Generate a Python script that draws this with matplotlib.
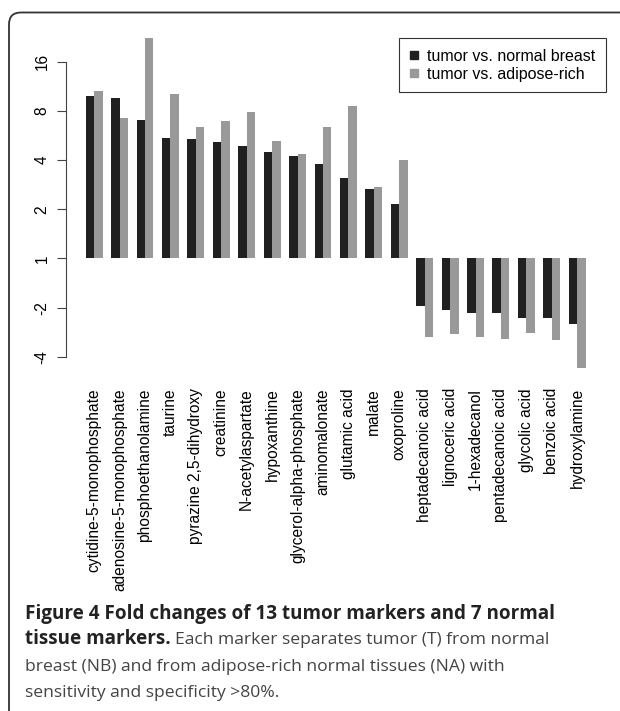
import matplotlib
matplotlib.use("Agg")
import matplotlib.pyplot as plt
import numpy as np
from matplotlib.lines import Line2D
from matplotlib.patches import FancyBboxPatch

# fold changes (negative = higher in normal tissue)
markers = [
    "cytidine-5-monophosphate", "adenosine-5-monophosphate", "phosphoethanolamine",
    "taurine", "pyrazine 2,5-dihydroxy", "creatinine", "N-acetylaspartate",
    "hypoxanthine", "glycerol-alpha-phosphate", "aminomalonate", "glutamic acid",
    "malate", "oxoproline", "heptadecanoic acid", "lignoceric acid", "1-hexadecanol",
    "pentadecanoic acid", "glycolic acid", "benzoic acid", "hydroxylamine",
]
fc_normal = [9.92, 9.65, 7.06, 5.46, 5.39, 5.13, 4.86, 4.50, 4.26, 3.78, 3.12, 2.66, 2.17,
             -1.95, -2.06, -2.14, -2.16, -2.31, -2.31, -2.53]
fc_adipose = [10.56, 7.26, 22.3, 10.2, 6.36, 6.96, 7.89, 5.21, 4.38, 6.36, 8.57, 2.75, 4.0,
              -3.01, -2.89, -3.03, -3.10, -2.85, -3.14, -4.69]
series_labels = ["tumor vs. normal breast", "tumor vs. adipose-rich"]
tick_values = [16, 8, 4, 2, 1, -2, -4]

caption_bold1 = "Figure 4 Fold changes of 13 tumor markers and 7 normal"
caption_bold2 = "tissue markers."
caption_rest2 = "Each marker separates tumor (T) from normal"
caption_line3 = "breast (NB) and from adipose-rich normal tissues (NA) with"
caption_line4 = "sensitivity and specificity >80%."

DARK, LIGHT = "#202020", "#999999"


def signed_log2(v):
    v = np.asarray(v, dtype=float)
    return np.sign(v) * np.log2(np.abs(v))


W, H = 620, 711
fig = plt.figure(figsize=(W / 100, H / 100), dpi=100)

ln = signed_log2(fc_normal)
la = signed_log2(fc_adipose)
lo = min(ln.min(), la.min())
hi = max(ln.max(), la.max())

# pixel layout of the plot region (zero line at y=258.5, 49.2 px per doubling)
y0, unit = 258.5, 49.2
top_px = y0 - hi * unit
bot_px = y0 - lo * unit
ax = fig.add_axes([65.7 / W, 1 - bot_px / H, 540 / W, (bot_px - top_px) / H])

n = len(markers)
grp = np.arange(n) * 3
ax.bar(grp + 1.5, ln, width=1, color=DARK, linewidth=0)
ax.bar(grp + 2.5, la, width=1, color=LIGHT, linewidth=0)
ax.set_xlim(-1.36, 62.36)
ax.set_ylim(lo, hi)

for s in ["top", "right", "bottom"]:
    ax.spines[s].set_visible(False)
ax.spines["left"].set_bounds(-2, 4)
ax.spines["left"].set_color("#444444")
ax.spines["left"].set_linewidth(0.8)

ax.set_yticks(signed_log2(tick_values))
ax.set_yticklabels([str(t) for t in tick_values], rotation=90, va="center",
                   family="Liberation Sans", fontsize=11.2)
ax.tick_params(axis="y", length=6.5, width=0.8, color="#444444", pad=5)

ax.set_xticks(grp + 2)
ax.set_xticklabels(markers, rotation=90, family="Liberation Sans", fontsize=11.2)
ax.tick_params(axis="x", length=0, pad=14.3)

handles = [Line2D([], [], ls="none", marker="s", ms=5.8, color=c) for c in (DARK, LIGHT)]
leg = ax.legend(handles, series_labels, loc="upper right", bbox_to_anchor=(1, 1),
                borderaxespad=0, fancybox=False, edgecolor="#333333",
                prop={"family": "Liberation Sans", "size": 11.5},
                handlelength=0.47, handletextpad=0.6,
                labelspacing=0.19, borderpad=0.66, framealpha=1)
leg.get_frame().set_linewidth(0.8)

# rounded frame around the figure panel
frame = FancyBboxPatch((9, -30), 700, H - 12.5 + 30,
                       boxstyle="round,pad=0,rounding_size=12",
                       transform=None, fill=False, edgecolor="#333333", linewidth=1.3)
fig.patches.append(frame)

# caption
bold = dict(family="Open Sans", fontsize=13.6, fontweight="bold", color="#222222",
            va="baseline")
reg = dict(family="Open Sans", fontsize=12.6, color="#444444", va="baseline")
x0 = 25
fig.text(x0 / W, 1 - 619 / H, caption_bold1, **bold)
t = fig.text(x0 / W, 1 - 644.3 / H, caption_bold2, **bold)
bb = t.get_window_extent(renderer=fig.canvas.get_renderer())
fig.text((bb.x1 + 4.6) / W, 1 - 644.3 / H, caption_rest2, **reg)
fig.text(x0 / W, 1 - 670.7 / H, caption_line3, **reg)
fig.text(x0 / W, 1 - 696.7 / H, caption_line4, **reg)

fig.savefig("out.png", dpi=100)
